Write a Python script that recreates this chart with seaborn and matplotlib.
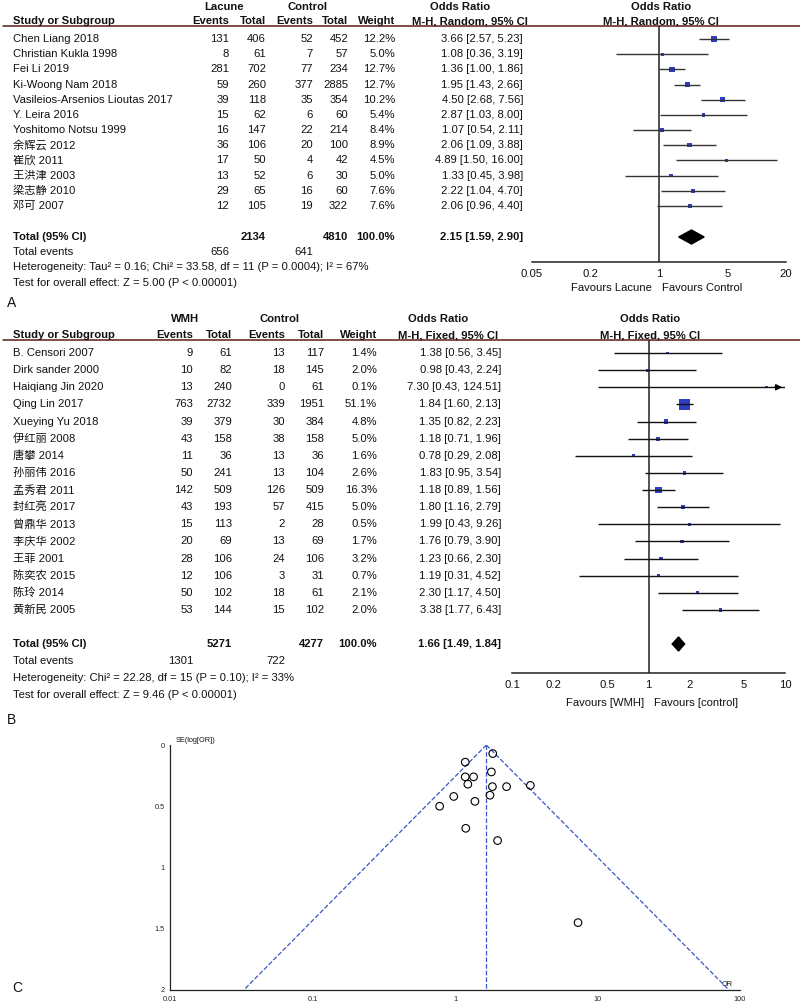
import numpy as np
import pandas as pd
import seaborn as sns
import matplotlib.pyplot as plt
from matplotlib.patches import Polygon

sns.set_style("white")
plt.rcParams['font.family'] = ['Liberation Sans', 'Noto Sans CJK SC']

# panel A data (lacune)
a_study = ["Chen Liang 2018", "Christian Kukla 1998", "Fei Li 2019", "Ki-Woong Nam 2018",
           "Vasileios-Arsenios Lioutas 2017", "Y. Leira 2016", "Yoshitomo Notsu 1999",
           "余辉云 2012", "崔欣 2011", "王洪津 2003", "梁志静 2010", "邓可 2007"]
a_ev1 = [131, 8, 281, 59, 39, 15, 16, 36, 17, 13, 29, 12]
a_tot1 = [406, 61, 702, 260, 118, 62, 147, 106, 50, 52, 65, 105]
a_ev2 = [52, 7, 77, 377, 35, 6, 22, 20, 4, 6, 16, 19]
a_tot2 = [452, 57, 234, 2885, 354, 60, 214, 100, 42, 30, 60, 322]
a_weight = [12.2, 5.0, 12.7, 12.7, 10.2, 5.4, 8.4, 8.9, 4.5, 5.0, 7.6, 7.6]
a_or = [3.66, 1.08, 1.36, 1.95, 4.50, 2.87, 1.07, 2.06, 4.89, 1.33, 2.22, 2.06]
a_lo = [2.57, 0.36, 1.00, 1.43, 2.68, 1.03, 0.54, 1.09, 1.50, 0.45, 1.04, 0.96]
a_hi = [5.23, 3.19, 1.86, 2.66, 7.56, 8.00, 2.11, 3.88, 16.00, 3.98, 4.70, 4.40]
a_total = [2134, 4810, 656, 641]
a_pool = [2.15, 1.59, 2.90]
a_ticks = [0.05, 0.2, 1, 5, 20]

# panel B data (WMH)
b_study = ["B. Censori 2007", "Dirk sander 2000", "Haiqiang Jin 2020", "Qing Lin 2017",
           "Xueying Yu 2018", "伊红丽 2008", "唐攀 2014", "孙丽伟 2016", "孟秀君 2011",
           "封红亮 2017", "曾鼎华 2013", "李庆华 2002", "王菲 2001", "陈奕农 2015",
           "陈玲 2014", "黄新民 2005"]
b_ev1 = [9, 10, 13, 763, 39, 43, 11, 50, 142, 43, 15, 20, 28, 12, 50, 53]
b_tot1 = [61, 82, 240, 2732, 379, 158, 36, 241, 509, 193, 113, 69, 106, 106, 102, 144]
b_ev2 = [13, 18, 0, 339, 30, 38, 13, 13, 126, 57, 2, 13, 24, 3, 18, 15]
b_tot2 = [117, 145, 61, 1951, 384, 158, 36, 104, 509, 415, 28, 69, 106, 31, 61, 102]
b_weight = [1.4, 2.0, 0.1, 51.1, 4.8, 5.0, 1.6, 2.6, 16.3, 5.0, 0.5, 1.7, 3.2, 0.7, 2.1, 2.0]
b_or = [1.38, 0.98, 7.30, 1.84, 1.35, 1.18, 0.78, 1.83, 1.18, 1.80, 1.99, 1.76, 1.23, 1.19, 2.30, 3.38]
b_lo = [0.56, 0.43, 0.43, 1.60, 0.82, 0.71, 0.29, 0.95, 0.89, 1.16, 0.43, 0.79, 0.66, 0.31, 1.17, 1.77]
b_hi = [3.45, 2.24, 124.51, 2.13, 2.23, 1.96, 2.08, 3.54, 1.56, 2.79, 9.26, 3.90, 2.30, 4.52, 4.50, 6.43]
b_total = [5271, 4277, 1301, 722]
b_pool = [1.66, 1.49, 1.84]
b_ticks = [0.1, 0.2, 0.5, 1, 2, 5, 10]

# panel C funnel (OR, SE)
f_or = [1.38, 0.98, 7.30, 1.84, 1.35, 1.18, 0.78, 1.83, 1.18, 1.80, 1.99, 1.76, 1.23, 1.19, 2.30, 3.38]
f_se = [0.46, 0.42, 1.45, 0.07, 0.26, 0.26, 0.50, 0.34, 0.14, 0.22, 0.78, 0.41, 0.32, 0.68, 0.34, 0.33]
f_xticks = [0.01, 0.1, 1, 10, 100]
f_yticks = [0, 0.5, 1, 1.5, 2]

W, H = 800, 1001
fig = plt.figure(figsize=(W / 100, H / 100), dpi=100)
bg = fig.add_axes([0, 0, 1, 1])
bg.set_xlim(0, W)
bg.set_ylim(H, 0)
bg.axis("off")

BLUE = "#2f3fc4"
LINE_RED = "#5a1e14"
FS = 8.1


def px_axes(x0, y0, x1, y1):
    ax = fig.add_axes([x0 / W, 1 - y1 / H, (x1 - x0) / W, (y1 - y0) / H])
    ax.patch.set_alpha(0)
    return ax


def txt(x, y, s, ha="right", bold=False, size=FS):
    bg.text(x, y, s, ha=ha, va="center", fontsize=size,
            fontweight="bold" if bold else "normal", color="#111")


def forest(c):
    # headers
    txt(c["grp1_x"], c["h1"], c["grp1"], ha="center", bold=True)
    txt(c["grp2_x"], c["h1"], "Control", ha="center", bold=True)
    txt(c["or_x"] - 63, c["h1"], "Odds Ratio", ha="center", bold=True)
    txt(c["plot_c"], c["h1"], "Odds Ratio", ha="center", bold=True)
    txt(13, c["h2"], "Study or Subgroup", ha="left", bold=True)
    for x, s in zip(c["cols"], ["Events", "Total", "Events", "Total", "Weight"]):
        txt(x, c["h2"], s, bold=True)
    txt(c["or_x"] - 53, c["h2"], c["method"], ha="center", bold=True)
    txt(c["plot_c"], c["h2"], c["method"], ha="center", bold=True)
    bg.plot([3, W], [c["line"], c["line"]], color=LINE_RED, lw=1.1)

    n = len(c["study"])
    rows = c["y0"] + np.arange(n) * c["step"]
    for i in range(n):
        y = rows[i]
        txt(13, y, c["study"][i], ha="left")
        vals = [c["ev1"][i], c["tot1"][i], c["ev2"][i], c["tot2"][i], f"{c['w'][i]:.1f}%"]
        for x, v in zip(c["cols"], vals):
            txt(x, y, str(v))
        txt(c["or_x"], y, f"{c['or'][i]:.2f} [{c['lo'][i]:.2f}, {c['hi'][i]:.2f}]")

    yt = c["ytot"]
    txt(13, yt, "Total (95% CI)", ha="left", bold=True)
    txt(c["cols"][1], yt, str(c["total"][0]), bold=True)
    txt(c["cols"][3], yt, str(c["total"][1]), bold=True)
    txt(c["cols"][4], yt, "100.0%", bold=True)
    p = c["pool"]
    txt(c["or_x"], yt, f"{p[0]:.2f} [{p[1]:.2f}, {p[2]:.2f}]", bold=True)
    txt(13, yt + c["tstep"], "Total events", ha="left")
    txt(c["cols"][0], yt + c["tstep"], str(c["total"][2]))
    txt(c["cols"][2], yt + c["tstep"], str(c["total"][3]))
    txt(13, yt + 2 * c["tstep"], c["het"], ha="left")
    txt(13, yt + 3 * c["tstep"], c["test"], ha="left")
    bg.text(7, c["label_y"], c["label"], ha="left", va="center", fontsize=10, color="#111")

    # forest plot area
    x0, x1 = c["px"]
    ax = px_axes(x0, c["line"], x1, c["axis_y"])
    ax.set_xscale("log")
    ticks = c["ticks"]
    ax.set_xlim(ticks[0], ticks[-1])
    ax.set_ylim(c["axis_y"], c["line"])
    for s in ["top", "right", "left"]:
        ax.spines[s].set_visible(False)
    ax.spines["bottom"].set_linewidth(1.1)
    ax.spines["bottom"].set_color("#222")
    ax.set_xticks(ticks)
    ax.set_xticklabels([f"{t:g}" for t in ticks], fontsize=FS)
    ax.minorticks_off()
    ax.tick_params(axis="x", direction="inout", length=8, width=1.1, pad=1, colors="#222")
    ax.tick_params(axis="x", labelcolor="#111")
    ax.set_yticks([])
    ax.axvline(1, color="#222", lw=1.1)

    hi = np.array(c["hi"])
    ax.hlines(rows, c["lo"], np.minimum(hi, ticks[-1]), color=c["ci_col"], lw=1.0)
    for i in np.where(hi > ticks[-1])[0]:
        ax.annotate("", xy=(ticks[-1], rows[i]), xytext=(ticks[-1] * 0.8, rows[i]),
                    arrowprops=dict(arrowstyle="-|>", color="black", lw=1.0, mutation_scale=9),
                    annotation_clip=False)
    df = pd.DataFrame({"or": c["or"], "y": rows, "w": c["w"]})
    sns.scatterplot(data=df, x="or", y="y", size="w", sizes=c["sizes"], marker="s",
                    color=BLUE, linewidth=0, legend=False, ax=ax)
    ax.set_xlabel("")
    ax.set_ylabel("")
    h = c["dh"]
    ax.add_patch(Polygon([(p[1], yt), (p[0], yt - h), (p[2], yt), (p[0], yt + h)],
                         closed=True, color="black"))
    # favours labels
    txt(c["fav_l"], c["fav_y"], c["fav"][0], ha="right")
    txt(c["fav_l"] + 10, c["fav_y"], c["fav"][1], ha="left")


forest(dict(
    study=a_study, ev1=a_ev1, tot1=a_tot1, ev2=a_ev2, tot2=a_tot2, w=a_weight,
    lo=a_lo, hi=a_hi, total=a_total, pool=a_pool, ticks=a_ticks, **{"or": a_or},
    grp1="Lacune", grp1_x=224, grp2_x=308, h1=7, h2=21, line=26,
    cols=[229, 266, 313, 348, 395], or_x=523, plot_c=661, method="M-H, Random, 95% CI",
    y0=39, step=15.18, ytot=237, tstep=15.2,
    het="Heterogeneity: Tau² = 0.16; Chi² = 33.58, df = 11 (P = 0.0004); I² = 67%",
    test="Test for overall effect: Z = 5.00 (P < 0.00001)",
    label="A", label_y=303, px=(532, 786), axis_y=262, ci_col="#333",
    sizes=(5, 14), dh=7, fav_l=652, fav_y=288, fav=("Favours Lacune", "Favours Control"),
))

forest(dict(
    study=b_study, ev1=b_ev1, tot1=b_tot1, ev2=b_ev2, tot2=b_tot2, w=b_weight,
    lo=b_lo, hi=b_hi, total=b_total, pool=b_pool, ticks=b_ticks, **{"or": b_or},
    grp1="WMH", grp1_x=185, grp2_x=279, h1=319, h2=335, line=340,
    cols=[193, 232, 285, 324, 377], or_x=501, plot_c=650, method="M-H, Fixed, 95% CI",
    y0=353, step=17.13, ytot=644, tstep=17,
    het="Heterogeneity: Chi² = 22.28, df = 15 (P = 0.10); I² = 33%",
    test="Test for overall effect: Z = 9.46 (P < 0.00001)",
    label="B", label_y=720, px=(512, 785), axis_y=673, ci_col="#111",
    sizes=(3, 63), dh=7, fav_l=644, fav_y=703, fav=("Favours [WMH]", "Favours [control]"),
))

# panel C funnel plot
fx = px_axes(170, 745, 740, 990)
fx.set_xscale("log")
fx.set_xlim(f_xticks[0], f_xticks[-1])
fx.set_ylim(f_yticks[-1], f_yticks[0])
for s in ["top", "right"]:
    fx.spines[s].set_visible(False)
for s in ["left", "bottom"]:
    fx.spines[s].set_linewidth(0.9)
    fx.spines[s].set_color("#222")
fx.set_xticks(f_xticks)
fx.set_xticklabels([f"{t:g}" for t in f_xticks], fontsize=5.3)
fx.set_yticks(f_yticks)
fx.set_yticklabels([f"{t:g}" for t in f_yticks], fontsize=5.3)
fx.minorticks_off()
fx.tick_params(direction="out", length=3, width=0.8, pad=1)

pooled = b_pool[0]
se_line = np.array([0, f_yticks[-1]])
fx.plot(pooled * np.exp(-1.96 * se_line), se_line, ls="--", color="#3a55c8", lw=0.9)
fx.plot(pooled * np.exp(1.96 * se_line), se_line, ls="--", color="#3a55c8", lw=0.9)
fx.plot([pooled, pooled], se_line, ls="--", color="#3a55c8", lw=0.9)
fdf = pd.DataFrame({"OR": f_or, "SE": f_se})
sns.scatterplot(data=fdf, x="OR", y="SE", marker="o", s=30, fc="none", ec="black",
                linewidth=0.8, ax=fx, zorder=3)
fx.set_xlabel("")
fx.set_ylabel("")
bg.text(176, 741, "SE(log[OR])", ha="left", va="center", fontsize=5.3, color="#111")
bg.text(727, 984, "OR", ha="center", va="center", fontsize=5.3, color="#111")
bg.text(12, 988, "C", ha="left", va="center", fontsize=10, color="#111")

fig.savefig("out.png", dpi=100, facecolor="white")
